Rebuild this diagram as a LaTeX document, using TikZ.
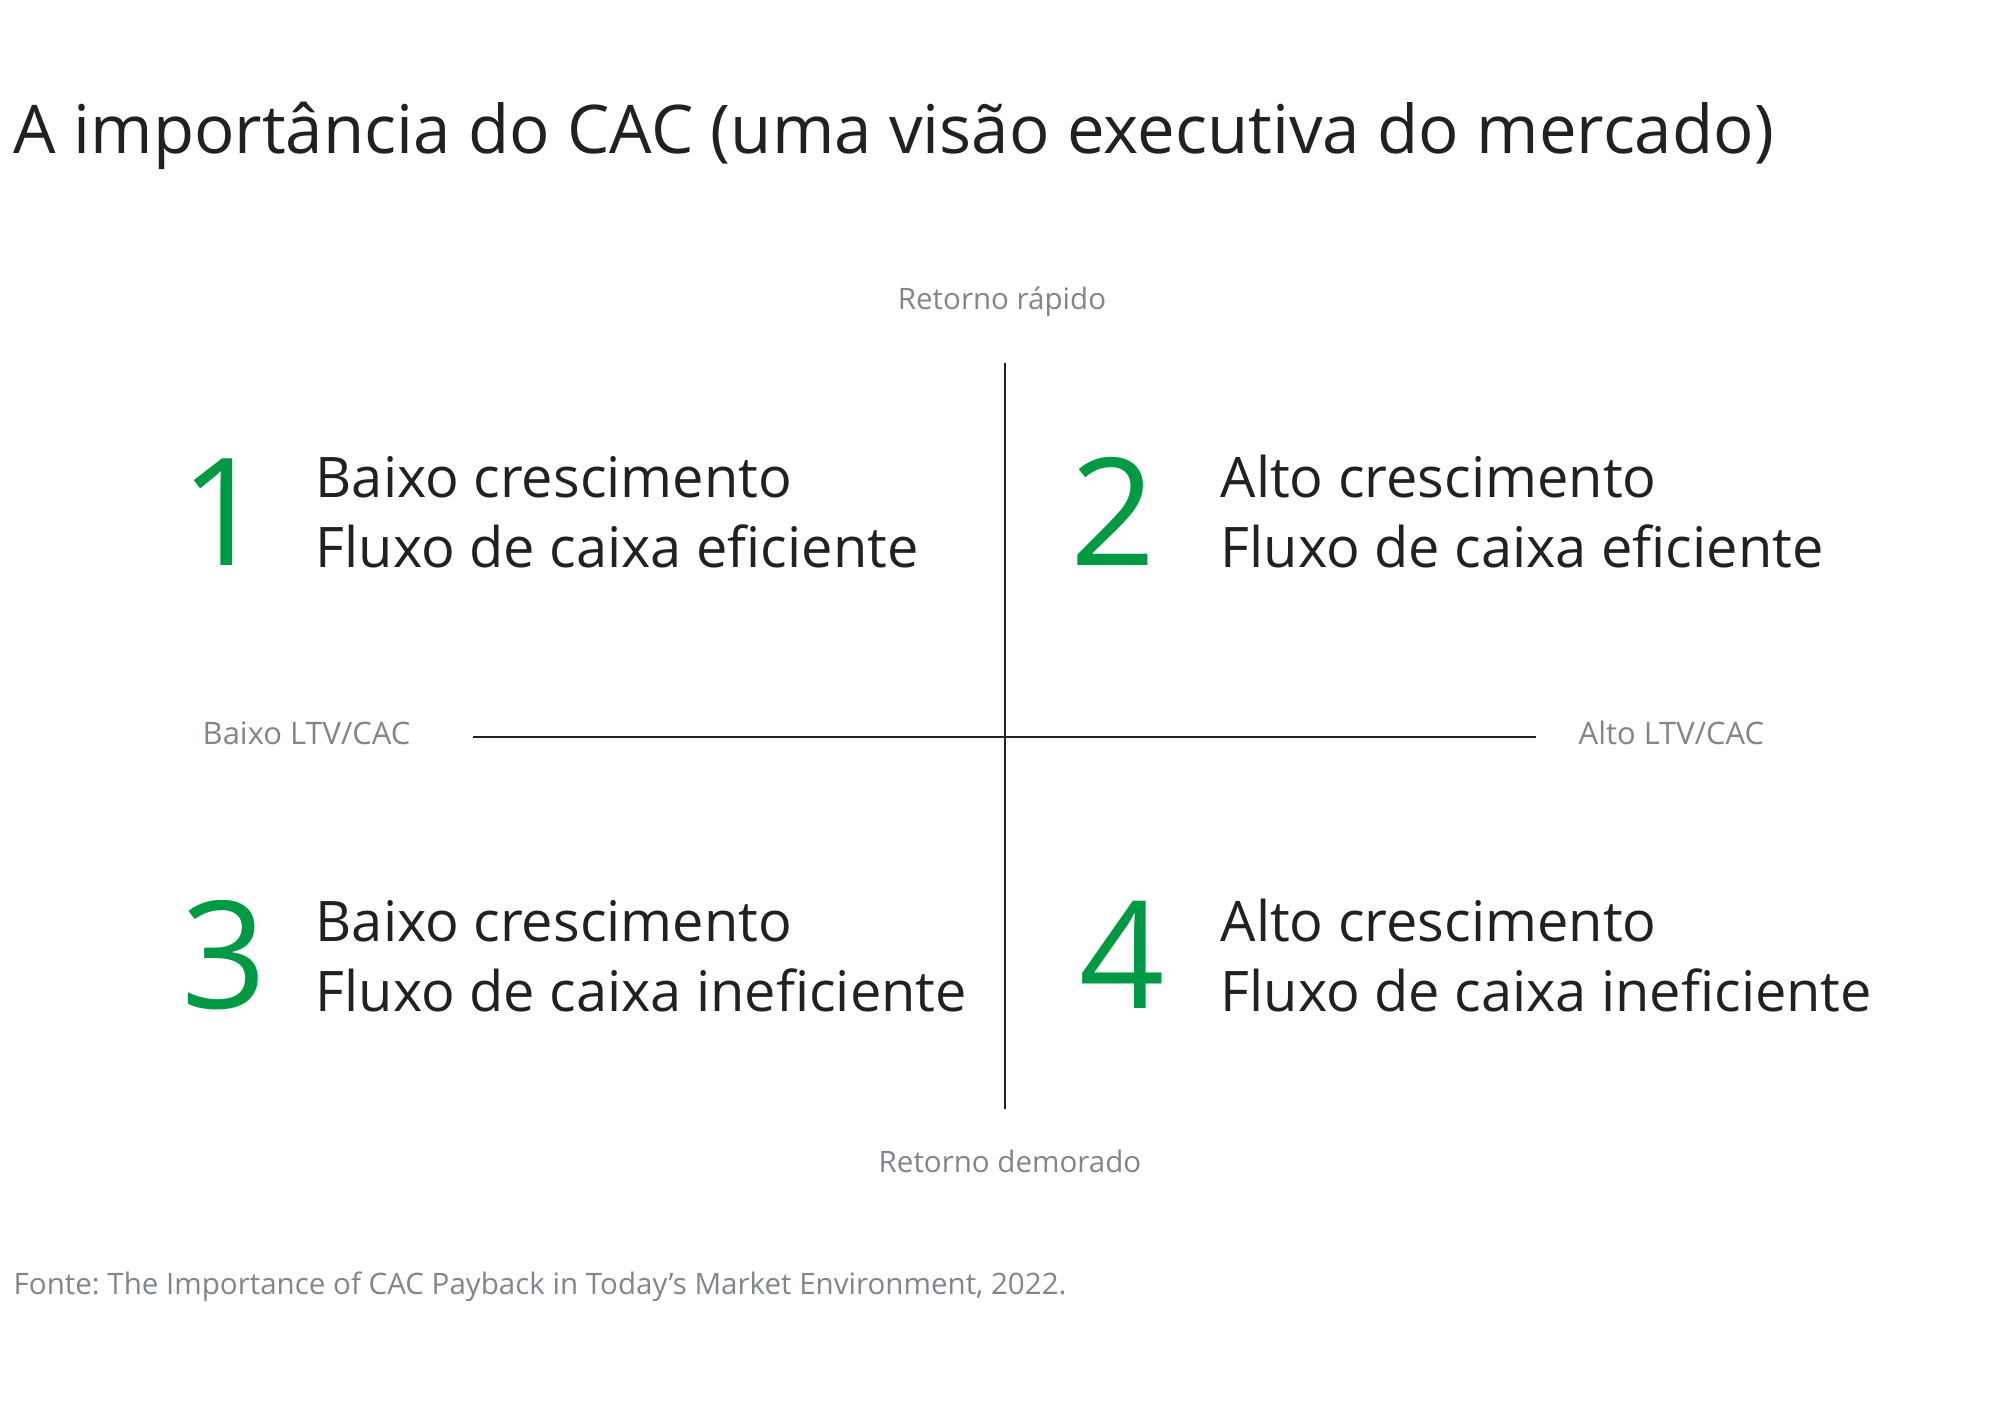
\documentclass[tikz,border=0pt]{standalone}
\usepackage{fontspec}
\setmainfont{Open Sans}
\usepackage{xcolor}
\usepackage{tikz}
\definecolor{CACText}{HTML}{202124}
\definecolor{CACGray}{HTML}{80868B}
\definecolor{CACGreen}{RGB}{0, 153, 68}

\tikzset{
    quadtext/.style={anchor=base west, align=left, inner sep=0pt, text=CACText, font=\fontsize{15.9}{19.9}\selectfont},
    axislabel/.style={anchor=base, inner sep=0pt, text=CACGray, font=\fontsize{8.4}{10}\selectfont},
    bignum/.style={anchor=base west, inner sep=0pt, text=CACGreen, font=\fontsize{42.5}{48}\selectfont}
}

\begin{document}
\frenchspacing
\begin{tikzpicture}[x=0.01cm, y=-0.01cm]
        % Canvas
        \useasboundingbox[fill=white] (0,0) rectangle (2000,1405);

        % Title
        \node[anchor=base west, inner sep=0pt, text=CACText, font=\fontsize{19.1}{23}\selectfont] (title) at (13,153) {A importância do CAC (uma visão executiva do mercado)};

        % Axes
        \coordinate (vtop) at (1005,363);
        \coordinate (vbot) at (1005,1109);
        \coordinate (hleft) at (473,737);
        \coordinate (hright) at (1536,737);
        \draw[line width=0.7pt, CACText] (vtop) -- (vbot);
        \draw[line width=0.7pt, CACText] (hleft) -- (hright);

        % Axis labels
        \node[axislabel] (fast) at (1002,309) {Retorno rápido};
        \node[axislabel] (slow) at (1010,1172) {Retorno demorado};
        \node[axislabel, anchor=base west, font=\fontsize{8.8}{10}\selectfont] (lowltv) at (202,744) {Baixo LTV/CAC};
        \node[axislabel, anchor=base west, font=\fontsize{8.8}{10}\selectfont] (highltv) at (1578,744) {Alto LTV/CAC};

        % Quadrants (base = last line)
        \node[bignum] (n1) at (180,565) {1};
        \node[quadtext] (q1) at (315,567) {Baixo crescimento\\Fluxo de caixa eficiente};

        \node[bignum] (n2) at (1070,565) {2};
        \node[quadtext] (q2) at (1220,567) {Alto crescimento\\Fluxo de caixa eficiente};

        \node[bignum] (n3) at (181,1008) {3};
        \node[quadtext] (q3) at (315,1011) {Baixo crescimento\\Fluxo de caixa ineficiente};

        \node[bignum] (n4) at (1079,1008) {4};
        \node[quadtext] (q4) at (1220,1011) {Alto crescimento\\Fluxo de caixa ineficiente};

        % Source
        \node[anchor=base west, inner sep=0pt, text=CACGray, font=\fontsize{8.4}{10}\selectfont] (source) at (13,1294) {Fonte: The Importance of CAC Payback in Today’s Market Environment, 2022.};
    \end{tikzpicture}
\end{document}
